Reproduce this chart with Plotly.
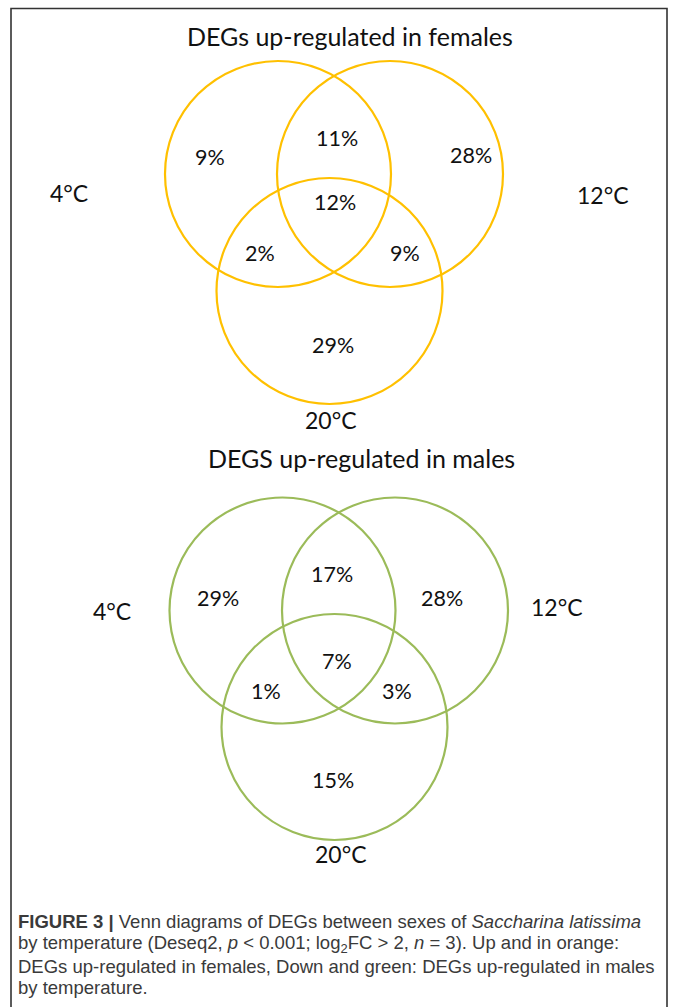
import plotly.graph_objects as go

# ---- data ----
sets = ["4°C", "12°C", "20°C"]
region_keys = ["4 only", "4&12", "12 only", "4&12&20", "4&20", "12&20", "20 only"]
female_pct = ["9%", "11%", "28%", "12%", "2%", "9%", "29%"]
male_pct = ["29%", "17%", "28%", "7%", "1%", "3%", "15%"]
titles = ["DEGs up-regulated in females", "DEGS up-regulated in males"]

# ---- layout (pixel coordinates) ----
W, H = 673, 1007
panels = [
    dict(color="#FFC000", title_xy=(350, 36),
         circles=[(278, 174, 113), (390, 174, 113), (329.5, 291, 113)],
         set_xy=[(69, 193), (603, 195), (331, 420)],
         reg_xy=[(210, 157), (337, 138), (471, 155), (335, 202), (260, 253), (405, 253), (333, 345)]),
    dict(color="#9BBB59", title_xy=(361, 458),
         circles=[(282.5, 610.5, 113), (395, 610.5, 113), (334.5, 727, 113)],
         set_xy=[(112, 611), (557, 607), (341, 854)],
         reg_xy=[(218, 598), (332, 574), (442, 598), (337, 661), (266, 691), (397, 691), (333, 780)]),
]
datasets = [female_pct, male_pct]

FONT = "Lato"
fig = go.Figure()
shapes = []
ann = []
for p, pct, title in zip(panels, datasets, titles):
    for (cx, cy, r) in p["circles"]:
        shapes.append(dict(type="circle", xref="x", yref="y",
                           x0=cx - r, x1=cx + r, y0=cy - r, y1=cy + r,
                           line=dict(color=p["color"], width=2.2)))
    ann.append(dict(x=p["title_xy"][0], y=p["title_xy"][1], text=title,
                    font=dict(size=25, family=FONT, color="#111")))
    for (x, y), s in zip(p["set_xy"], sets):
        ann.append(dict(x=x, y=y, text=s, font=dict(size=23, family=FONT, color="#111")))
    for (x, y), s in zip(p["reg_xy"], pct):
        ann.append(dict(x=x, y=y, text=s, font=dict(size=21.5, family=FONT, color="#111")))

# frame
shapes.append(dict(type="rect", xref="x", yref="y", x0=11, x1=667, y0=8.5, y1=1020,
                   line=dict(color="#333", width=1.6)))

caption = [
    "<b>FIGURE 3 |</b> Venn diagrams of DEGs between sexes of <i>Saccharina latissima</i>",
    "by temperature (Deseq2, <i>p</i> < 0.001; log<sub>2</sub>FC > 2, <i>n</i> = 3). Up and in orange:",
    "DEGs up-regulated in females, Down and green: DEGs up-regulated in males",
    "by temperature.",
]
cap_y = [921, 944, 966, 987]
for t, y in zip(caption, cap_y):
    ann.append(dict(x=16, y=y, text=t, xanchor="left",
                    font=dict(size=18.5, family="Liberation Sans", color="#3a3a3a")))

for a in ann:
    a.setdefault("xanchor", "center")
    a.update(yanchor="middle", showarrow=False, xref="x", yref="y")

fig.update_layout(
    width=W, height=H, margin=dict(l=0, r=0, t=0, b=0),
    paper_bgcolor="white", plot_bgcolor="white",
    xaxis=dict(range=[0, W], visible=False, fixedrange=True),
    yaxis=dict(range=[H, 0], visible=False, fixedrange=True),
    shapes=shapes, annotations=ann, showlegend=False,
)
fig.write_html("out.html", config=dict(displayModeBar=False),
               post_script="document.body.style.margin='0';document.body.style.overflow='hidden';")
